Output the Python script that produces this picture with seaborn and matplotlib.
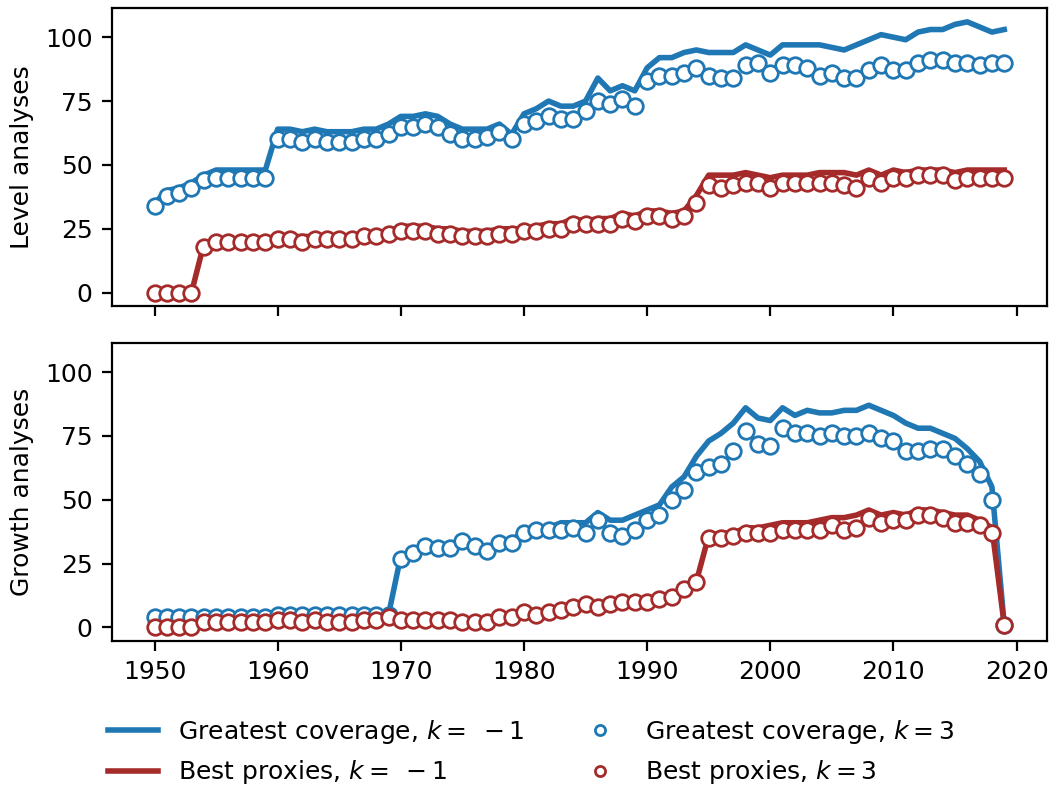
import numpy as np
import pandas as pd
import matplotlib
matplotlib.use("Agg")
import matplotlib.pyplot as plt
import seaborn as sns

years = list(range(1950, 2020))

level_gc_m1 = [35, 40, 41, 43, 46, 48, 48, 48, 48, 48,
               64, 64, 63, 64, 63, 63, 63, 64, 64, 66,
               69, 69, 70, 69, 66, 64, 64, 64, 66, 62,
               70, 72, 75, 73, 73, 75, 84, 79, 81, 79,
               88, 92, 92, 94, 95, 94, 94, 94, 97, 95,
               93, 97, 97, 97, 97, 96, 95, 97, 99, 101,
               100, 99, 102, 103, 103, 105, 106, 104, 102, 103]
level_gc_3 = [34, 38, 39, 41, 44, 45, 45, 45, 45, 45,
              60, 60, 59, 60, 59, 59, 59, 60, 60, 62,
              65, 65, 66, 65, 62, 60, 60, 61, 63, 60,
              66, 67, 69, 68, 68, 71, 75, 74, 76, 73,
              83, 85, 85, 86, 88, 85, 84, 84, 89, 90,
              86, 89, 89, 88, 85, 86, 84, 84, 87, 89,
              87, 87, 90, 91, 91, 90, 90, 89, 90, 90]
level_bp_m1 = [0, 0, 0, 0, 19, 21, 21, 21, 21, 21,
               22, 22, 22, 22, 22, 22, 22, 22, 23, 24,
               26, 26, 26, 25, 25, 24, 24, 24, 25, 25,
               25, 26, 27, 27, 29, 28, 29, 29, 31, 30,
               32, 32, 31, 32, 38, 46, 46, 46, 47, 46,
               45, 46, 46, 46, 47, 47, 47, 46, 48, 46,
               48, 47, 48, 48, 48, 47, 48, 48, 48, 48]
level_bp_3 = [0, 0, 0, 0, 18, 20, 20, 20, 20, 20,
              21, 21, 20, 21, 21, 21, 21, 22, 22, 23,
              24, 24, 24, 23, 23, 22, 22, 22, 23, 23,
              24, 24, 25, 25, 27, 27, 27, 27, 29, 28,
              30, 30, 29, 30, 35, 42, 41, 42, 43, 43,
              41, 43, 43, 43, 43, 43, 42, 41, 45, 43,
              45, 45, 46, 46, 46, 44, 45, 45, 45, 45]

growth_gc_m1 = [4, 4, 4, 4, 4, 4, 4, 4, 4, 4,
                5, 5, 5, 5, 5, 5, 5, 5, 5, 5,
                28, 30, 32, 32, 32, 33, 32, 30, 34, 34,
                38, 39, 39, 41, 41, 41, 45, 42, 42, 44,
                46, 48, 55, 59, 67, 73, 76, 80, 86, 82,
                81, 86, 83, 85, 84, 84, 85, 85, 87, 85,
                83, 80, 78, 78, 76, 74, 70, 65, 55, 1]
growth_gc_3 = [4, 4, 4, 4, 4, 4, 4, 4, 4, 4,
               5, 5, 5, 5, 5, 5, 5, 5, 5, 5,
               27, 29, 32, 31, 31, 34, 32, 30, 33, 33,
               37, 38, 38, 38, 39, 37, 42, 37, 36, 38,
               42, 44, 50, 54, 61, 63, 64, 69, 77, 72,
               71, 78, 76, 76, 75, 76, 75, 75, 76, 74,
               73, 69, 69, 70, 70, 67, 64, 60, 50, 1]
growth_bp_m1 = [1, 1, 1, 1, 2, 2, 2, 2, 2, 2,
                3, 3, 3, 3, 3, 3, 3, 3, 3, 4,
                3, 3, 3, 3, 3, 3, 2, 2, 5, 5,
                7, 6, 7, 8, 9, 10, 9, 10, 11, 11,
                11, 12, 13, 15, 18, 36, 37, 37, 39, 39,
                40, 41, 41, 41, 42, 43, 43, 44, 46, 44,
                45, 44, 46, 46, 45, 44, 44, 42, 39, 1]
growth_bp_3 = [0, 0, 0, 0, 2, 2, 2, 2, 2, 2,
               3, 3, 2, 3, 2, 2, 2, 3, 3, 4,
               3, 3, 3, 3, 3, 2, 2, 2, 4, 4,
               6, 5, 6, 7, 8, 9, 8, 9, 10, 10,
               10, 11, 12, 15, 18, 35, 35, 36, 37, 37,
               37, 38, 38, 38, 38, 40, 38, 39, 43, 41,
               42, 42, 44, 44, 43, 41, 41, 40, 37, 1]

labels = ["Greatest coverage, $k=\\;-1$", "Best proxies, $k=\\;-1$",
          "Greatest coverage, $k=3$", "Best proxies, $k=3$"]
ylabels = ["Level analyses", "Growth analyses"]

BLUE = "#1f77b4"
RED = "#a52a2a"

plt.rcParams.update({"font.size": 9, "font.family": "DejaVu Sans"})

fig, axes = plt.subplots(2, 1, figsize=(1054 / 200, 785 / 200), dpi=200,
                         sharex=True, sharey=True)
fig.subplots_adjust(left=0.1063, right=0.9931, top=0.9894, bottom=0.1834,
                    hspace=0.124)

panels = [(level_gc_m1, level_bp_m1, level_gc_3, level_bp_3),
          (growth_gc_m1, growth_bp_m1, growth_gc_3, growth_bp_3)]

MS = 5.6
MEW = 1.0

for ax, (gc1, bp1, gc3, bp3), yl in zip(axes, panels, ylabels):
    df = pd.DataFrame({"year": years, "gc1": gc1, "bp1": bp1,
                       "gc3": gc3, "bp3": bp3})
    sns.lineplot(data=df, x="year", y="gc1", ax=ax, color=BLUE, lw=2.0,
                 label=labels[0])
    sns.lineplot(data=df, x="year", y="bp1", ax=ax, color=RED, lw=2.0,
                 label=labels[1])
    sns.lineplot(data=df, x="year", y="gc3", ax=ax, color=BLUE,
                 linestyle="none", marker="o", markersize=MS,
                 markerfacecolor="white", markeredgecolor=BLUE,
                 markeredgewidth=MEW, label=labels[2])
    sns.lineplot(data=df, x="year", y="bp3", ax=ax, color=RED,
                 linestyle="none", marker="o", markersize=MS,
                 markerfacecolor="white", markeredgecolor=RED,
                 markeredgewidth=MEW, label=labels[3])
    if ax.get_legend() is not None:
        ax.get_legend().remove()
    ax.set_ylabel(yl)
    ax.set_xlabel("")
    ax.set_yticks([0, 25, 50, 75, 100])

axes[1].set_xticks([1950, 1960, 1970, 1980, 1990, 2000, 2010, 2020])

handles, labs = axes[0].get_legend_handles_labels()
fig.legend(handles, labs, loc="center", bbox_to_anchor=(0.504, 0.042),
           ncol=2, frameon=False, handlelength=2.0, markerscale=0.65)

fig.savefig("out.png", dpi=200)
